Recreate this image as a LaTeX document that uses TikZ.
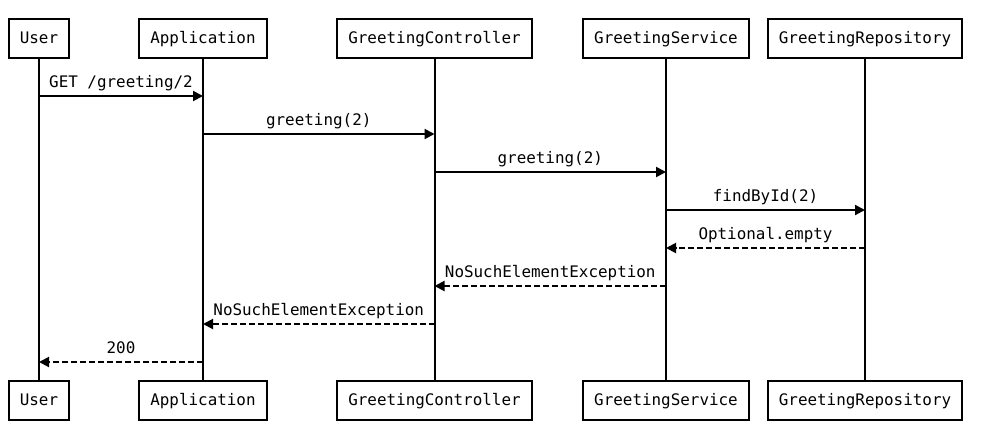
\documentclass[tikz,border=0pt]{standalone}
\usepackage{fontspec}
\setmonofont{DejaVu Sans Mono}
\usetikzlibrary{arrows.meta}
\begin{document}
\begin{tikzpicture}[x=1pt,y=-1pt,
  font=\ttfamily\fontsize{15.9}{18}\selectfont,
  actor/.style={draw, line width=2pt, minimum height=39pt, inner xsep=11pt, inner ysep=0pt, text height=11.5pt, text depth=1.5pt},
  life/.style={line width=2pt},
  msg/.style={line width=2pt, -{Triangle[length=10pt,width=10pt]}},
  reply/.style={msg, dash pattern=on 6pt off 3pt},
  lbl/.style={midway, anchor=base, yshift=9pt, inner sep=0pt}]
\useasboundingbox (0,0) rectangle (992,440);
% top actors
\node[actor] (uT) at (39,38.5) {User};
\node[actor] (aT) at (203,38.5) {Application};
\node[actor] (cT) at (434.5,38.5) {GreetingController};
\node[actor] (sT) at (666,38.5) {GreetingService};
\node[actor] (rT) at (865,38.5) {GreetingRepository};
% bottom actors
\node[actor] (uB) at (39,400.5) {User};
\node[actor] (aB) at (203,400.5) {Application};
\node[actor] (cB) at (434.5,400.5) {GreetingController};
\node[actor] (sB) at (666,400.5) {GreetingService};
\node[actor] (rB) at (865,400.5) {GreetingRepository};
% lifelines
\draw[life] (uT) -- (uB);
\draw[life] (aT) -- (aB);
\draw[life] (cT) -- (cB);
\draw[life] (sT) -- (sB);
\draw[life] (rT) -- (rB);
% message rows
\coordinate (m1) at (0,96);
\coordinate (m2) at (0,134);
\coordinate (m3) at (0,172);
\coordinate (m4) at (0,210);
\coordinate (m5) at (0,248);
\coordinate (m6) at (0,286);
\coordinate (m7) at (0,324);
\coordinate (m8) at (0,362);
\draw[msg] (uT |- m1) -- node[lbl] {GET /greeting/2} (aT |- m1);
\draw[msg] (aT |- m2) -- node[lbl] {greeting(2)} (cT |- m2);
\draw[msg] (cT |- m3) -- node[lbl] {greeting(2)} (sT |- m3);
\draw[msg] (sT |- m4) -- node[lbl] {findById(2)} (rT |- m4);
\draw[reply] (rT |- m5) -- node[lbl] {Optional.empty} (sT |- m5);
\draw[reply] (sT |- m6) -- node[lbl] {NoSuchElementException} (cT |- m6);
\draw[reply] (cT |- m7) -- node[lbl] {NoSuchElementException} (aT |- m7);
\draw[reply] (aT |- m8) -- node[lbl] {200} (uT |- m8);
\end{tikzpicture}
\end{document}
